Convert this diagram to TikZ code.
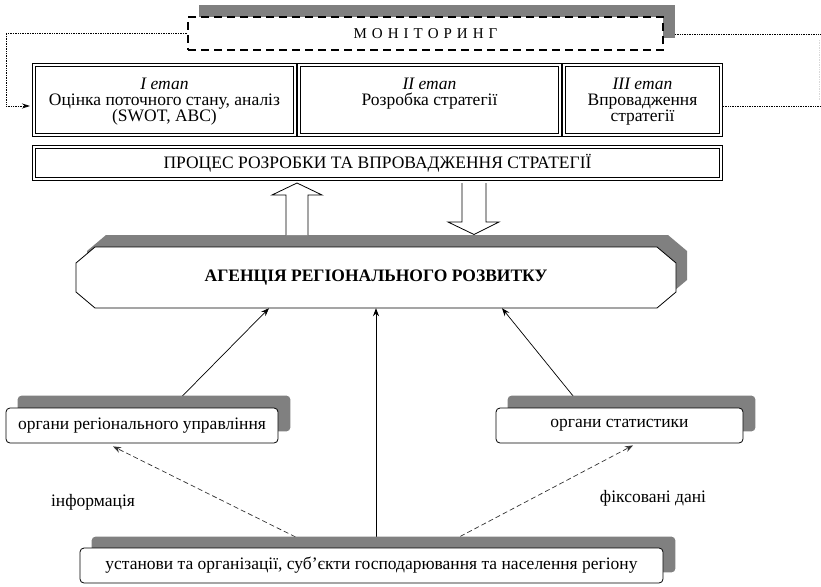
\documentclass[tikz,border=0pt]{standalone}
\usepackage{fontspec}
\setmainfont{Liberation Serif}
\usetikzlibrary{arrows.meta,calc}
\definecolor{shd}{RGB}{128,128,128}
\pgfdeclarelayer{bg}
\pgfdeclarelayer{sh}
\pgfsetlayers{bg,sh,main}
\begin{document}
\begin{tikzpicture}[x=1pt,y=-1pt,
  txt/.style={font=\fontsize{17.5}{16}\selectfont, inner sep=0pt, align=center},
  ln/.style={font=\fontsize{17.5}{16}\selectfont, inner sep=0pt, anchor=base},
  dbox/.style={draw, double, double distance=2.2pt, line width=0.7pt, inner sep=0pt, fill=white},
  rbox/.style={draw, fill=white, rounded corners=4pt, line width=0.8pt, inner sep=0pt, font=\fontsize{17.5}{16}\selectfont},
  shadowfill/.style={fill=shd, rounded corners=4pt},
  arr/.style={-{Stealth[length=8pt,width=6pt]}, line width=0.7pt},
  darr/.style={-{Stealth[length=8pt,width=6pt]}, line width=0.7pt, dash pattern=on 5pt off 3pt, draw=black!80},
  dots/.style={line width=0.8pt, dash pattern=on 0.8pt off 0.9pt},
  hollow/.style={draw, fill=white, line width=0.8pt}
]
\useasboundingbox (0,0) rectangle (821,586);

% ---------- monitoring ----------
\fill[shd] (199,5) rectangle (675,38);
\coordinate (mshR) at (675,34);
\node[draw, fill=white, line width=1.6pt, dash pattern=on 8pt off 5pt, minimum width=475pt, minimum height=33pt, inner sep=0pt] (mon) at (425.5,33.5) {};
\node[font=\fontsize{15}{16}\selectfont, inner sep=0pt] at (425.5,34) {М\,\,О\,\,Н\,\,І\,\,Т\,\,О\,\,Р\,\,И\,\,Н\,\,Г};

% ---------- stages ----------
\node[dbox, minimum width=261.4pt, minimum height=70.4pt] (s1) at (164.5,100) {};
\node[dbox, minimum width=261.4pt, minimum height=70.4pt] (s2) at (429.5,100) {};
\node[dbox, minimum width=157.4pt, minimum height=70.4pt] (s3) at (642.5,100) {};
\node[ln] (s1a) at (s1 |- 0,89) {\textit{I етап}};
\node[ln] (s1b) at (s1 |- 0,105) {Оцінка поточного стану, аналіз};
\node[ln] (s1c) at (s1 |- 0,121) {(SWOT, ABC)};
\node[ln] (s2a) at (s2 |- 0,89) {\textit{II етап}};
\node[ln] (s2b) at (s2 |- 0,105) {Розробка стратегії};
\node[ln] (s3a) at (s3 |- 0,89) {\textit{III етап}};
\node[ln] (s3b) at (s3 |- 0,105) {Впровадження};
\node[ln] (s3c) at (s3 |- 0,121) {стратегії};

% process
\node[dbox, minimum width=687.4pt, minimum height=32.4pt, txt] (proc) at (377.5,163) {ПРОЦЕС РОЗРОБКИ ТА ВПРОВАДЖЕННЯ СТРАТЕГІЇ};

% dotted monitoring loop
\coordinate (lc1) at (6,33.5);
\coordinate (lc2) at (6,106);
\coordinate (la) at (30,106);
\draw[dots] (mon.west) -- (lc1) -- (lc2);
\draw[dots, -{Stealth[length=8pt,width=5pt]}] (lc2) -- (la);
\coordinate (rend1) at (821,34);
\coordinate (rend2) at (821,106);
\coordinate (s3r) at (723,106);
\draw[dots] (mshR) -- (rend1);
\draw[dots] (s3r) -- (rend2);
\draw[dots, draw=black!15] (819,40) -- (819,100);

% ---------- agency ----------
\begin{scope}[shift={(11,-12)}]
\fill[shd] (95,247) -- (657,247) -- (676,263) -- (676,292) -- (657,308) -- (95,308) -- (76,292) -- (76,263) -- cycle;
\end{scope}
% hollow arrows
\draw[hollow] (286,235) -- (286,195) -- (272,195) -- (297,183) -- (322,195) -- (308,195) -- (308,235);
\draw[hollow] (462,183) -- (462,222) -- (448,222) -- (474,234.5) -- (499,222) -- (486,222) -- (486,183);
\fill[white] (76,263) -- (95,247) -- (657,247) -- (676,263) -- (676,292) -- (657,308) -- (95,308) -- (76,292) -- cycle;
\draw[line width=0.8pt] (95,247) -- (657,247) -- (676,263) -- (676,292) -- (657,308) -- (95,308) -- (76,292) -- (76,263) -- cycle;
\node[txt, font=\fontsize{17.5}{16}\selectfont\bfseries, minimum width=600pt, minimum height=61pt] (ag) at (376,277.5) {АГЕНЦІЯ РЕГІОНАЛЬНОГО РОЗВИТКУ};

% ---------- lower boxes ----------
\node[rbox, minimum width=272pt, minimum height=35pt] (lb) at (142,425.5) {органи регіонального управління};
\node[rbox, minimum width=247pt, minimum height=35pt] (rb) at (619.5,425.5) {органи статистики};
\node[rbox, minimum width=583pt, minimum height=35pt] (bb) at (371.5,565.5) {установи та організації, суб’єкти господарювання та населення регіону};

\begin{pgfonlayer}{sh}
\fill[shadowfill] ([shift={(12,-12)}]lb.south west) rectangle ([shift={(12,-12)}]lb.north east);
\fill[shadowfill] ([shift={(12,-12)}]rb.south west) rectangle ([shift={(12,-12)}]rb.north east);
\fill[shadowfill] ([shift={(12,-11)}]bb.south west) rectangle ([shift={(12,-11)}]bb.north east);
\end{pgfonlayer}

\begin{pgfonlayer}{bg}
\draw[arr] ($(lb.north)+(29,0)$) -- ($(ag.south)+(-107,0)$);
\draw[arr] ($(rb.north)+(-37,0)$) -- ($(ag.south)+(126,0)$);
\draw[arr] (ag.south |- bb.north) -- (ag.south);
\draw[darr] ($(bb.north)+(-54.5,0)$) -- ($(lb.south)+(-29,3)$);
\draw[darr] ($(bb.north)+(67.5,0)$) -- ($(rb.south)+(13.5,2)$);
\end{pgfonlayer}

\node[txt] (info) at (93,502) {інформація};
\node[txt] (fix) at (653,498) {фіксовані дані};
\end{tikzpicture}
\end{document}
